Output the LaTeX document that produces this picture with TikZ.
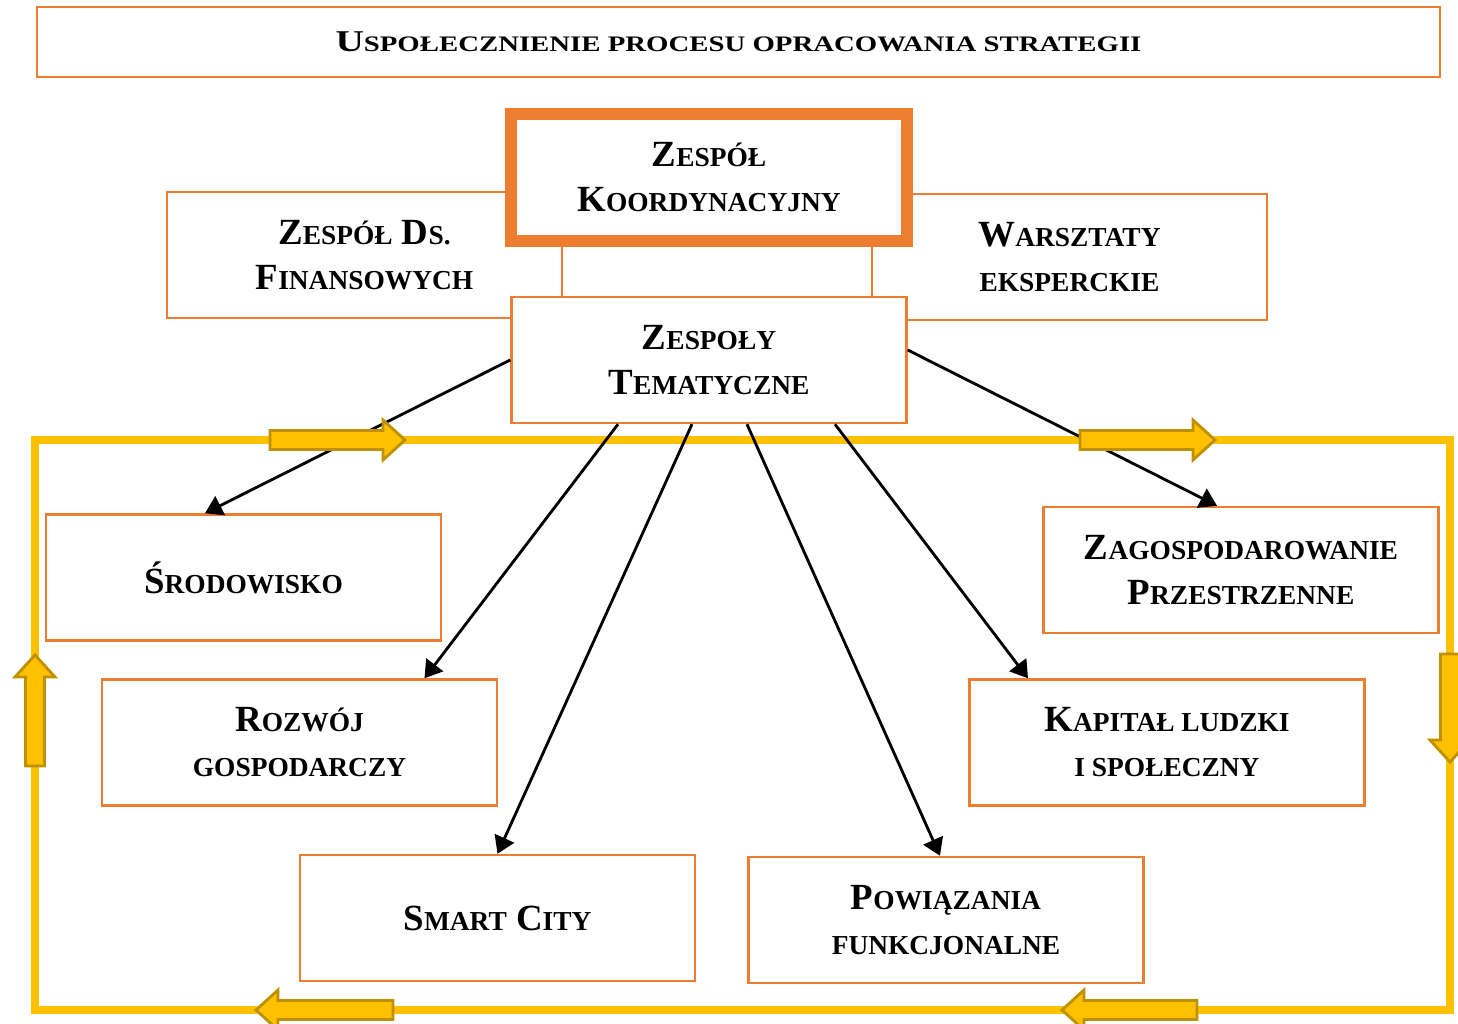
\documentclass[tikz,border=0pt]{standalone}
\usepackage{fontspec}
\setmainfont{Liberation Serif}
\usetikzlibrary{positioning,arrows.meta}
\definecolor{boxorange}{HTML}{ED7D31}
\definecolor{frameyellow}{HTML}{FFC000}
\definecolor{arrowgold}{HTML}{BF9000}
\newcommand{\sm}[1]{{\fontsize{7.8}{12.8}\selectfont #1}}
\newcommand{\tsm}[1]{{\fontsize{6.3}{10}\selectfont #1}}
\tikzset{
  box/.style={draw=boxorange, line width=0.7pt, fill=white, minimum width=39.5mm, minimum height=12.6mm, align=center, inner sep=0pt, font=\bfseries\fontsize{10.5}{12.8}\selectfont},
  link/.style={-{Triangle[length=1.7mm,width=2.1mm]}, line width=0.8pt},
  pics/blockarr/.style={code={
    \draw[line width=0.8pt, draw=arrowgold, fill=frameyellow] (0,0) -- (-22,-20) -- (-22,-9.5) -- (-#1,-9.5) -- (-#1,9.5) -- (-22,9.5) -- (-22,20) -- cycle;
  }}
}

\begin{document}
\begin{tikzpicture}[x=0.1mm, y=-0.1mm]
        \useasboundingbox (0,0) rectangle (1458,1024);
        \node[box, minimum width=140.3mm, minimum height=7mm, font=\bfseries\addfontfeature{FakeStretch=1.3}\fontsize{8.6}{10}\selectfont] (title) at (738.5,42) {U\tsm{SPOŁECZNIENIE PROCESU OPRACOWANIA STRATEGII}};

        \node[box] (fin) at (364.5,255) {Z\sm{ESPÓŁ} D\sm{S.}\\F\sm{INANSOWYCH}};
        \node[box] (warsz) at (1069.5,257) {W\sm{ARSZTATY}\\\sm{EKSPERCKIE}};
        \node[box, line width=3.4pt, minimum width=39.6mm, minimum height=12.7mm] (koord) at (709,177.5) {Z\sm{ESPÓŁ}\\K\sm{OORDYNACYJNY}};
        \node[box] (temat) at (709,360) {Z\sm{ESPOŁY}\\T\sm{EMATYCZNE}};

        \draw[frameyellow, line width=2.3pt] (35,440) rectangle (1450,1010);

        \node[box] (srod) at (243.5,577.5) {Ś\sm{RODOWISKO}};
        \node[box] (zagosp) at (1241,570) {Z\sm{AGOSPODAROWANIE}\\P\sm{RZESTRZENNE}};
        \node[box] (rozwoj) at (299.5,742.5) {R\sm{OZWÓJ}\\\sm{GOSPODARCZY}};
        \node[box] (kapital) at (1167,742.5) {K\sm{APITAŁ LUDZKI}\\\sm{I SPOŁECZNY}};
        \node[box] (smart) at (497.5,918) {S\sm{MART} C\sm{ITY}};
        \node[box] (powiaz) at (946,920) {P\sm{OWIĄZANIA}\\\sm{FUNKCJONALNE}};

        \draw[link] (temat.west) -- ([xshift=-3.85mm]srod.north);
        \draw[link] ([xshift=-9.1mm]temat.south) -- ([xshift=12.5mm]rozwoj.north);
        \draw[link] ([xshift=-1.7mm]temat.south) -- (smart.north);
        \draw[link] ([xshift=3.8mm]temat.south) -- ([xshift=-0.6mm]powiaz.north);
        \draw[link] ([xshift=12.6mm]temat.south) -- ([xshift=-13.9mm]kapital.north);
        \draw[link] ([yshift=1mm]temat.east) -- ([xshift=-2.4mm]zagosp.north);

        \pic at (405,440) {blockarr=135};
        \pic at (1215,440) {blockarr=135};
        \pic[rotate=90] at (35,655) {blockarr=111};
        \pic[rotate=-90] at (1450,762) {blockarr=108};
        \pic[rotate=180] at (256,1010) {blockarr=137};
        \pic[rotate=180] at (1062,1010) {blockarr=135};
\end{tikzpicture}
\end{document}
